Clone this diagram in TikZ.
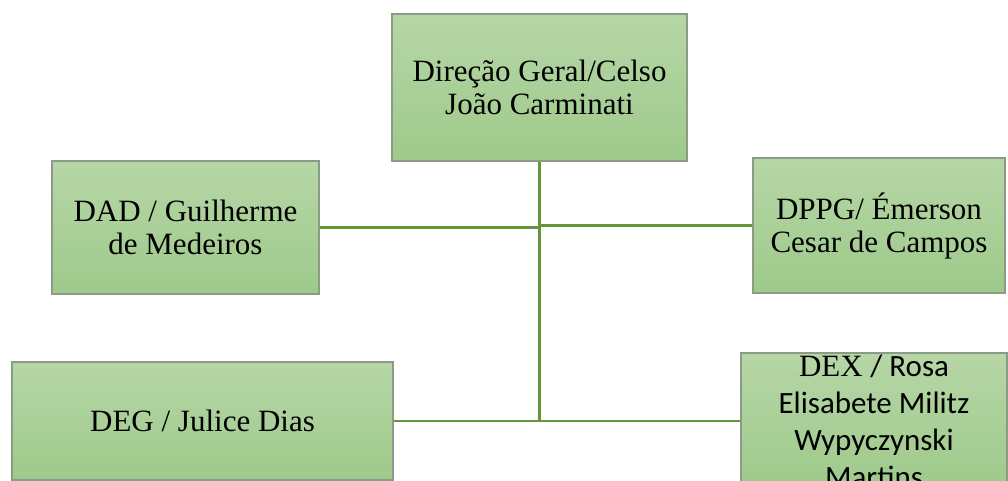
\documentclass[tikz,border=0pt]{standalone}
\usepackage{fontspec}
\setmainfont{Liberation Serif}
\newfontfamily\calibri{Carlito}
\definecolor{boxtop}{RGB}{182,214,166}
\definecolor{boxbottom}{RGB}{158,202,139}
\definecolor{boxline}{RGB}{140,155,135}
\definecolor{linkgreen}{RGB}{102,150,58}
\tikzset{
  unit/.style={draw=boxline, line width=1.2pt, top color=boxtop, bottom color=boxbottom,
    inner sep=0pt, align=center, font=\fontsize{31}{33}\selectfont},
  link/.style={draw=linkgreen, line width=2.6pt}
}
\begin{document}
\begin{tikzpicture}[x=1pt,y=-1pt]
\useasboundingbox (0,0) rectangle (1008,481);
\clip (0,0) rectangle (1008,481);

\node[unit, minimum width=295, minimum height=147] at (539.5,87.5) (dg){Direção Geral/Celso\\João Carminati};
\node[unit, minimum width=267, minimum height=133] at (185.5,227.5) (dad){DAD / Guilherme\\de Medeiros};
\node[unit, minimum width=252, minimum height=135] at (879,225.5) (dppg){DPPG/ Émerson\\Cesar de Campos};
\node[unit, minimum width=381, minimum height=118] at (202.5,421) (deg){DEG / Julice Dias};
\node[unit, minimum width=266, minimum height=136, font=\fontsize{31}{37}\selectfont] at (874,421) (dex)
  {DEX {\calibri/ Rosa}\\\calibri Elisabete Militz\\\calibri Wypyczynski\\\calibri Martins}; % runs past the page

\draw[link] (dg.south) -- (dg.south |- deg.east); % trunk
\draw[link] (dad.east) -- (dad.east -| dg.south);
\draw[link] (dppg.west) -- (dppg.west -| dg.south);
\draw[link] (deg.east) -- (dex.west |- deg.east);

\end{tikzpicture}
\end{document}
